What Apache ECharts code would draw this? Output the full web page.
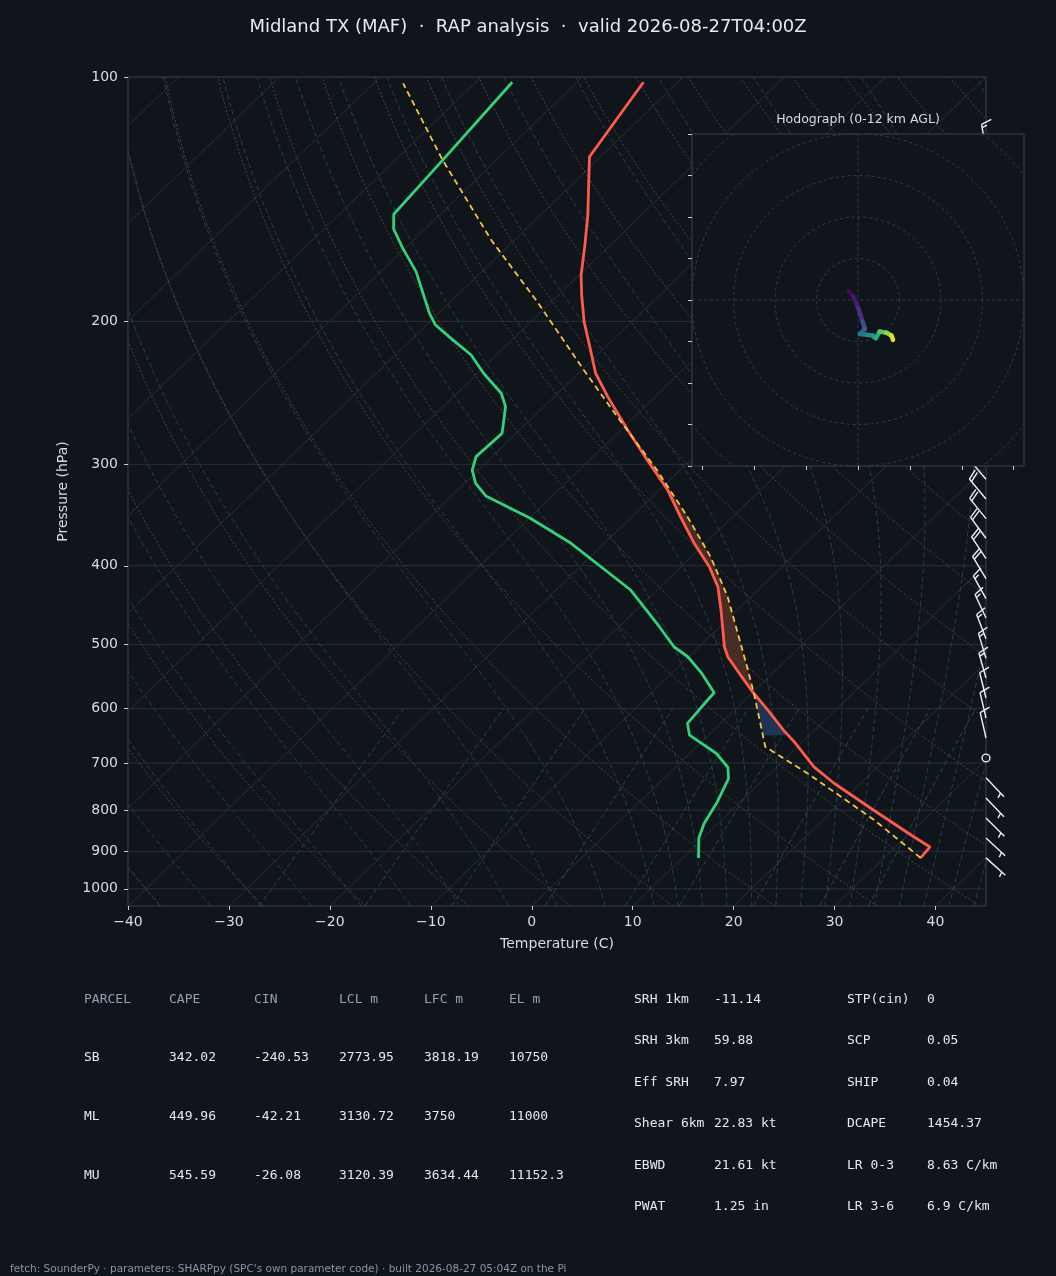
<!DOCTYPE html>
<html>
<head>
<meta charset="utf-8">
<title>Skew-T Midland TX</title>
<script src="https://cdn.jsdelivr.net/npm/echarts@6.0.0/dist/echarts.min.js"></script>
<style>
html,body{margin:0;padding:0;background:#10141b;}
#chart{width:1056px;height:1276px;}
</style>
</head>
<body>
<div id="chart"></div>
<script>
// ================= DATA =================
// Environmental temperature (hPa, degC)
const envP = [916.2, 888.1, 863.3, 799.7, 740.7, 707.8, 661.4, 637.5, 602.3, 571.8, 545.4, 518.2, 503.3, 453.5, 424.5, 401.1, 375.3, 348.0, 322.6, 296.3, 272.2, 247.6, 231.7, 213.9, 200.3, 185.6, 175.4, 161.1, 147.9, 125.4, 101.5];
const envT = [33.6, 33.4, 30.8, 24.0, 17.3, 13.7, 9.4, 6.9, 3.3, -0.1, -3.0, -6.1, -7.5, -11.6, -14.3, -17.2, -21.1, -25.2, -29.2, -34.3, -39.3, -44.7, -48.3, -51.8, -54.7, -57.7, -59.8, -62.5, -65.3, -71.1, -73.4];
// Dewpoint
const dewP = [916.2, 866.5, 830.4, 781.1, 730.9, 708.4, 680.8, 646.6, 625.5, 585.4, 573.4, 542.8, 517.8, 503.3, 475.5, 445.0, 428.5, 375.3, 349.6, 328.1, 316.6, 304.9, 293.5, 274.8, 254.7, 245.2, 231.7, 220.0, 209.9, 202.1, 195.5, 173.7, 162.6, 153.9, 147.6, 126.6, 101.5];
const dewT = [11.6, 9.6, 8.6, 7.7, 6.4, 5.2, 2.6, -1.9, -3.3, -3.7, -3.8, -7.0, -10.1, -12.5, -16.0, -20.2, -22.6, -33.3, -39.9, -46.6, -48.9, -50.6, -51.6, -51.4, -53.8, -55.6, -59.4, -62.5, -66.2, -69.1, -70.9, -76.5, -80.2, -83.1, -84.6, -85.3, -86.4];
// Surface-based parcel path
const parP = [916.2, 822.6, 720.6, 668.4, 613.8, 574.4, 532.7, 436.8, 389.9, 348.0, 304.9, 262.1, 229.6, 189.2, 158.8, 126.6, 101.8];
const parT = [33.6, 25.1, 13.7, 6.8, 3.1, 0.2, -3.2, -12.3, -18.1, -24.5, -32.3, -41.7, -49.8, -61.4, -72.3, -85.3, -97.1];
// Shaded layers (hPa)
const capeLayer = [575, 278];
const cinLayer = [647, 575];
// Wind barbs (hPa, u kt, v kt)
const barbP = [916,866,818,773,730,690,652,616,582,550,520,492,464,439,415,392,370,350,331,313,295,279,264,249,236,223,210,199,188,178,168,158,150,142,134,123];
const barbU = [-4.8,-4.9,-4.6,-4.5,-4.2,0.4,2.2,2.4,2.8,3.6,4.2,5.5,6.8,8.5,9.5,10.5,11.5,12.2,12.5,13,13.5,14,14.5,15,15.5,16,16.5,17,15,12,9,6,4,3,3,2.5];
const barbV = [4.3,4.5,4.6,4.7,4.4,-0.6,-9.6,-10.2,-11.2,-12.6,-13.8,-14.2,-14.6,-15.2,-15.8,-15.8,-15.6,-15.2,-15.0,-15.2,-15.6,-16,-16.4,-17,-17.6,-18.5,-19,-19.3,-17,-14,-13,-13,-13.5,-14,-14,-14.5];
// Hodograph (kt, km AGL)
const hodoU = [-4.7, -2.3, 0.1, 2.2, 3.3, 0.9, 4.1, 7.0, 8.6, 10.4, 13.7, 16.1, 16.9];
const hodoV = [4.4, 1.7, -3.9, -10.4, -13.9, -16.4, -16.7, -17.1, -18.4, -15.2, -15.8, -17.1, -19.2];
const hodoH = [0, 0.5, 1.2, 2.2, 3.2, 4.2, 5.0, 5.8, 6.8, 8.0, 9.5, 10.8, 12.0];
const hodoRings = [20, 40, 60, 80, 100];
const hodoXTicks = [-75, -50, -25, 0, 25, 50, 75];
const hodoYTicks = [-80, -60, -40, -20, 0, 20, 40, 60, 80];
// Axis ticks
const pressureTicks = [100, 200, 300, 400, 500, 600, 700, 800, 900, 1000];
const tempTicks = [-40, -30, -20, -10, 0, 10, 20, 30, 40];
// Reference line families
const dryThetaC = [-50,-40,-30,-20,-10,0,10,20,30,40,50,60,70,80,90,100,110,120,130,140,150,160,170,180,190];
const moistT0 = [-50,-45,-40,-35,-30,-25,-20,-15,-10,-5,0,5,10,12.5,15,17.5,20,22.5,25,27.5,30,32.5,35,37.5,40,42.5,45];
const mixRatios = [0.0004, 0.001, 0.002, 0.004, 0.007, 0.01, 0.016, 0.024, 0.032];
const isotherms = [-120,-110,-100,-90,-80,-70,-60,-50,-40,-30,-20,-10,0,10,20,30,40];
// Texts
const titleText = 'Midland TX (MAF)  \u00b7  RAP analysis  \u00b7  valid 2026-08-27T04:00Z';
const parcelHeader = ['PARCEL','CAPE','CIN','LCL m','LFC m','EL m'];
const parcelRows = [
  ['SB','342.02','-240.53','2773.95','3818.19','10750'],
  ['ML','449.96','-42.21','3130.72','3750','11000'],
  ['MU','545.59','-26.08','3120.39','3634.44','11152.3']
];
const paramsA = [['SRH 1km','-11.14'],['SRH 3km','59.88'],['Eff SRH','7.97'],['Shear 6km','22.83 kt'],['EBWD','21.61 kt'],['PWAT','1.25 in']];
const paramsB = [['STP(cin)','0'],['SCP','0.05'],['SHIP','0.04'],['DCAPE','1454.37'],['LR 0-3','8.63 C/km'],['LR 3-6','6.9 C/km']];
const footerText = "fetch: SounderPy \u00b7 parameters: SHARPpy (SPC's own parameter code) \u00b7 built 2026-08-27 05:04Z on the Pi";

// ================= helpers =================
const X_MIN = -40, X_MAX = 45, P_TOP = 100, P_BOT = 1050;
const LB = Math.log10(P_BOT), LT = Math.log10(P_TOP);
function skewX(T, p) { return T + (X_MAX - X_MIN) * (LB - Math.log10(p)) / (LB - LT); }
function toXY(T, p) { return [skewX(T, p), Math.log10(p)]; }
function logspace(a, b, n) { const la = Math.log10(a), lb = Math.log10(b); const r = []; for (let i = 0; i < n; i++) r.push(Math.pow(10, la + (lb - la) * i / (n - 1))); return r; }

const BG = '#10141b';
const presGrid = logspace(1050, 100, 60);

const dryLines = dryThetaC.map(th => presGrid.map(p => [(th + 273.15) * Math.pow(p / 1000, 0.28571) - 273.15, p]));

function moistLine(t0C) {
  const Rd = 287.04749, Cp = 1004.6662, Lv = 2.501e6, eps = 0.62196;
  const f = (p, T) => { const e = 6.112 * Math.exp(17.67 * (T - 273.15) / (T - 29.65)); const rs = eps * e / (p - e); return (Rd * T + Lv * rs) / (p * (Cp + Lv * Lv * rs * eps / (Rd * T * T))); };
  const step = (p0, T0, p1) => { const n = Math.max(1, Math.ceil(Math.abs(p1 - p0) / 4)); const h = (p1 - p0) / n; let p = p0, T = T0; for (let i = 0; i < n; i++) { const k1 = f(p, T), k2 = f(p + h / 2, T + h * k1 / 2), k3 = f(p + h / 2, T + h * k2 / 2), k4 = f(p + h, T + h * k3); T += h * (k1 + 2 * k2 + 2 * k3 + k4) / 6; p += h; } return T; };
  const res = new Array(presGrid.length);
  let p = 1000, T = t0C + 273.15;
  for (let i = 0; i < presGrid.length; i++) { if (presGrid[i] <= 1000) { T = step(p, T, presGrid[i]); p = presGrid[i]; res[i] = T; } }
  p = 1000; T = t0C + 273.15;
  for (let i = presGrid.length - 1; i >= 0; i--) { if (presGrid[i] > 1000) { T = step(p, T, presGrid[i]); p = presGrid[i]; res[i] = T; } }
  return presGrid.map((q, i) => [res[i] - 273.15, q]);
}
const moistLines = moistT0.map(moistLine);

const mixP = logspace(1050, 600, 20);
const mixLines = mixRatios.map(w => mixP.map(p => { const e = p * w / (0.62196 + w); const l = Math.log(e / 6.112); return [243.5 * l / (17.67 - l), p]; }));

const isoLines = isotherms.map(T => [[T, P_BOT], [T, P_TOP]]);
const isobarLines = pressureTicks.map(p => [[X_MIN - skewX(0, p), p], [X_MAX - skewX(0, p), p]]);

function familySeries(lines, color, dash, width, z) {
  return {
    type: 'custom', xAxisIndex: 0, yAxisIndex: 0, clip: true, silent: true, z: z,
    data: lines.map(() => [0, 2.5]),
    renderItem: function (params, api) {
      const pts = lines[params.dataIndex].map(q => api.coord(toXY(q[0], q[1])));
      return { type: 'polyline', shape: { points: pts }, style: { stroke: color, lineWidth: width, lineDash: dash, fill: null } };
    }
  };
}

function interpT(P, T, p) {
  for (let i = 0; i < P.length - 1; i++) {
    if (P[i] >= p && p >= P[i + 1]) { const f = Math.log(P[i] / p) / Math.log(P[i] / P[i + 1]); return T[i] + f * (T[i + 1] - T[i]); }
  }
  return T[T.length - 1];
}
function band(Pa, Ta, Pb, Tb, pBot, pTop) {
  const A = [[interpT(Pa, Ta, pBot), pBot]];
  Pa.forEach((p, i) => { if (p < pBot && p > pTop) A.push([Ta[i], p]); });
  A.push([interpT(Pa, Ta, pTop), pTop]);
  const B = [[interpT(Pb, Tb, pBot), pBot]];
  Pb.forEach((p, i) => { if (p < pBot && p > pTop) B.push([Tb[i], p]); });
  B.push([interpT(Pb, Tb, pTop), pTop]);
  return A.concat(B.reverse());
}
function fillSeries(poly, color, z) {
  return {
    type: 'custom', xAxisIndex: 0, yAxisIndex: 0, clip: true, silent: true, z: z,
    data: [[0, 2.5]],
    renderItem: function (params, api) {
      return { type: 'polygon', shape: { points: poly.map(q => api.coord(toXY(q[0], q[1]))) }, style: { fill: color, stroke: null } };
    }
  };
}

function barbShape(B, u, v) {
  const L = 26, S = 0.125 * L, H = 0.4 * L, W = 0.25 * L, R = 0.15 * L;
  const style = { stroke: '#eef0f3', lineWidth: 1.4, fill: null };
  const mag = Math.hypot(u, v);
  const r = 5 * Math.round(mag / 5);
  if (r === 0) return { type: 'circle', shape: { cx: B[0], cy: B[1], r: R }, style: style };
  const flags = Math.floor(r / 50); let rem = r - 50 * flags;
  const barbs = Math.floor(rem / 10); const half = (rem - 10 * barbs) >= 5;
  const d = [-u / mag, v / mag], pp = [-v / mag, -u / mag];
  const P = (a, b) => [B[0] + b * d[0] + a * pp[0], B[1] + b * d[1] + a * pp[1]];
  const ch = [];
  const tip = P(0, L);
  ch.push({ type: 'line', shape: { x1: B[0], y1: B[1], x2: tip[0], y2: tip[1] }, style: style });
  let off = L;
  for (let i = 0; i < flags; i++) {
    ch.push({ type: 'polygon', shape: { points: [P(0, off), P(H, off - W / 2), P(0, off - W)] }, style: { fill: '#eef0f3', stroke: '#eef0f3', lineWidth: 1 } });
    off -= W + S;
  }
  for (let i = 0; i < barbs; i++) {
    const a = P(0, off), b = P(H, off + W / 2);
    ch.push({ type: 'line', shape: { x1: a[0], y1: a[1], x2: b[0], y2: b[1] }, style: style });
    off -= S;
  }
  if (half) {
    if (off === L) off -= 1.5 * S;
    const a = P(0, off), b = P(H / 2, off + W / 4);
    ch.push({ type: 'line', shape: { x1: a[0], y1: a[1], x2: b[0], y2: b[1] }, style: style });
  }
  return { type: 'group', children: ch };
}

const viridis = ['#440154', '#482475', '#414487', '#355f8d', '#2a788e', '#21918c', '#22a884', '#44bf70', '#7ad151', '#bddf26', '#fde725'];
function hexToRgb(h) { return [parseInt(h.substr(1, 2), 16), parseInt(h.substr(3, 2), 16), parseInt(h.substr(5, 2), 16)]; }
function viridisAt(t) {
  t = Math.max(0, Math.min(1, t)); const x = t * 10; const i = Math.min(9, Math.floor(x)); const f = x - i;
  const a = hexToRgb(viridis[i]), b = hexToRgb(viridis[i + 1]);
  return 'rgb(' + a.map((c, k) => Math.round(c + (b[k] - c) * f)).join(',') + ')';
}
const hodoSegs = [];
for (let i = 1; i < hodoU.length; i++) hodoSegs.push([hodoU[i - 1], hodoV[i - 1], hodoU[i], hodoV[i], (hodoH[i - 1] + hodoH[i]) / 2]);

// ================= texts (graphic) =================
const G = [];
function txt(x, y, text, color, font, align) {
  G.push({ type: 'text', x: x, y: y, z: 100, silent: true,
    style: { text: text, fill: color, font: font, align: align || 'left', verticalAlign: 'middle', textAlign: align || 'left', textVerticalAlign: 'middle' } });
}
const MONO = '13px "DejaVu Sans Mono", monospace';
const colX = [84, 169, 254, 339, 424, 509];
parcelHeader.forEach((h, i) => txt(colX[i], 1000, h, '#93a1b3', MONO));
const rowY = [1058, 1117, 1176];
parcelRows.forEach((row, r) => row.forEach((c, i) => txt(colX[i], rowY[r], c, '#e6e8eb', MONO)));
const pRowY = [1000, 1041, 1083, 1124, 1166, 1207];
paramsA.forEach((pr, r) => { txt(634, pRowY[r], pr[0], '#e6e8eb', MONO); txt(714, pRowY[r], pr[1], '#e6e8eb', MONO); });
paramsB.forEach((pr, r) => { txt(847, pRowY[r], pr[0], '#e6e8eb', MONO); txt(927, pRowY[r], pr[1], '#e6e8eb', MONO); });
txt(10, 1269, footerText, '#8796aa', '10.5px "DejaVu Sans", sans-serif');
txt(528, 27, titleText, '#e6e9ee', '18px "DejaVu Sans", sans-serif', 'center');
txt(858, 120, 'Hodograph (0-12 km AGL)', '#d8dbe0', '12.5px "DejaVu Sans", sans-serif', 'center');

// ================= chart =================
const chart = echarts.init(document.getElementById('chart'), null, { renderer: 'canvas' });
const LBL = '#d8dce2';
const ptLog = pressureTicks.map(p => Math.log10(p));

const option = {
  backgroundColor: BG,
  animation: false,
  textStyle: { fontFamily: 'DejaVu Sans' },
  graphic: { elements: G },
  grid: [
    { left: 128, top: 77, width: 858, height: 829, show: true, borderColor: '#3a4350', borderWidth: 1, backgroundColor: 'transparent', containLabel: false },
    { left: 692, top: 134, width: 332, height: 332, show: false, containLabel: false }
  ],
  xAxis: [
    { type: 'value', gridIndex: 0, position: 'bottom', min: X_MIN, max: X_MAX, interval: 10,
      name: 'Temperature (C)', nameLocation: 'middle', nameGap: 31,
      nameTextStyle: { color: LBL, fontSize: 14, fontFamily: 'DejaVu Sans' },
      axisLine: { show: false, onZero: false },
      axisTick: { show: true, length: 4, customValues: tempTicks, lineStyle: { color: '#c9ced6' } },
      axisLabel: { show: true, customValues: tempTicks, margin: 9, color: LBL, fontSize: 14, fontFamily: 'DejaVu Sans',
        formatter: v => (v < 0 ? '\u2212' + (-v) : String(v)) },
      splitLine: { show: false } },
    { type: 'value', gridIndex: 1, position: 'bottom', min: -80, max: 80, z: 13,
      axisLine: { show: false, onZero: false },
      axisTick: { show: true, length: 4, customValues: hodoXTicks, lineStyle: { color: '#c9ced6' } },
      axisLabel: { show: false, customValues: hodoXTicks },
      splitLine: { show: false } }
  ],
  yAxis: [
    { type: 'value', gridIndex: 0, position: 'left', inverse: true, min: LT, max: LB,
      name: 'Pressure (hPa)', nameLocation: 'middle', nameGap: 58, nameRotate: 90,
      nameTextStyle: { color: LBL, fontSize: 14, fontFamily: 'DejaVu Sans' },
      axisLine: { show: false, onZero: false },
      axisTick: { show: true, length: 4, customValues: ptLog, lineStyle: { color: '#c9ced6' } },
      axisLabel: { show: true, customValues: ptLog, margin: 10, color: LBL, fontSize: 14, fontFamily: 'DejaVu Sans',
        formatter: v => String(Math.round(Math.pow(10, v))) },
      splitLine: { show: false } },
    { type: 'value', gridIndex: 1, position: 'left', min: -80, max: 80, z: 13,
      axisLine: { show: false, onZero: false },
      axisTick: { show: true, length: 4, customValues: hodoYTicks, lineStyle: { color: '#c9ced6' } },
      axisLabel: { show: false, customValues: hodoYTicks },
      splitLine: { show: false } }
  ],
  series: [
    familySeries(isobarLines, '#29303a', null, 1, 1),
    familySeries(isoLines, '#29303a', null, 1, 1),
    familySeries(dryLines, '#54432f', [2, 2], 1, 1),
    familySeries(moistLines, '#24404a', [5, 3], 1, 1),
    familySeries(mixLines, '#2b4456', [5, 3], 1, 1),
    fillSeries(band(parP, parT, envP, envT, capeLayer[0], capeLayer[1]), '#4a2c26', 2),
    fillSeries(band(parP, parT, envP, envT, cinLayer[0], cinLayer[1]), '#1e3452', 2),
    { name: 'Temperature', type: 'line', xAxisIndex: 0, yAxisIndex: 0, z: 3, showSymbol: false, silent: true,
      data: envP.map((p, i) => toXY(envT[i], p)), lineStyle: { color: '#ff5b4d', width: 2.8 } },
    { name: 'Dewpoint', type: 'line', xAxisIndex: 0, yAxisIndex: 0, z: 3, showSymbol: false, silent: true,
      data: dewP.map((p, i) => toXY(dewT[i], p)), lineStyle: { color: '#33d17a', width: 2.8 } },
    { name: 'Parcel', type: 'line', xAxisIndex: 0, yAxisIndex: 0, z: 3, showSymbol: false, silent: true,
      data: parP.map((p, i) => toXY(parT[i], p)), lineStyle: { color: '#f5c542', width: 1.8, type: [6, 4] } },
    { name: 'Wind', type: 'custom', xAxisIndex: 0, yAxisIndex: 0, clip: false, silent: true, z: 4,
      data: barbP.map((p, i) => [X_MAX, Math.log10(p), barbU[i], barbV[i]]),
      renderItem: function (params, api) {
        const B = api.coord([api.value(0), api.value(1)]);
        return barbShape(B, api.value(2), api.value(3));
      } },
    // Hodograph inset
    { type: 'custom', xAxisIndex: 1, yAxisIndex: 1, silent: true, z: 10, clip: false,
      data: [[0, 0]],
      renderItem: function (params, api) {
        const c = params.coordSys;
        return { type: 'rect', shape: { x: c.x, y: c.y, width: c.width, height: c.height }, style: { fill: BG, stroke: '#3a4350', lineWidth: 1 } };
      } },
    { type: 'custom', xAxisIndex: 1, yAxisIndex: 1, silent: true, z: 11, clip: true,
      data: [[0, 0]],
      renderItem: function (params, api) {
        const a = api.coord([-80, 0]), b = api.coord([80, 0]), c = api.coord([0, -80]), d = api.coord([0, 80]);
        const st = { stroke: '#343d4a', lineWidth: 1, lineDash: [3, 3] };
        return { type: 'group', children: [
          { type: 'line', shape: { x1: a[0], y1: a[1], x2: b[0], y2: b[1] }, style: st },
          { type: 'line', shape: { x1: c[0], y1: c[1], x2: d[0], y2: d[1] }, style: st } ] };
      } },
    { type: 'custom', xAxisIndex: 1, yAxisIndex: 1, silent: true, z: 11, clip: true,
      data: hodoRings.map(r => [r, 0]),
      renderItem: function (params, api) {
        const c = api.coord([0, 0]);
        const rr = api.size([api.value(0), 0])[0];
        return { type: 'circle', shape: { cx: c[0], cy: c[1], r: rr }, style: { fill: null, stroke: '#343d4a', lineWidth: 1, lineDash: [3, 3] } };
      } },
    { type: 'custom', xAxisIndex: 1, yAxisIndex: 1, silent: true, z: 12, clip: true,
      encode: { x: [0, 2], y: [1, 3] },
      data: hodoSegs,
      renderItem: function (params, api) {
        const a = api.coord([api.value(0), api.value(1)]), b = api.coord([api.value(2), api.value(3)]);
        return { type: 'line', shape: { x1: a[0], y1: a[1], x2: b[0], y2: b[1] },
          style: { stroke: viridisAt(api.value(4) / 12), lineWidth: 4.5, lineCap: 'round' } };
      } }
  ]
};
chart.setOption(option);
</script>
</body>
</html>
